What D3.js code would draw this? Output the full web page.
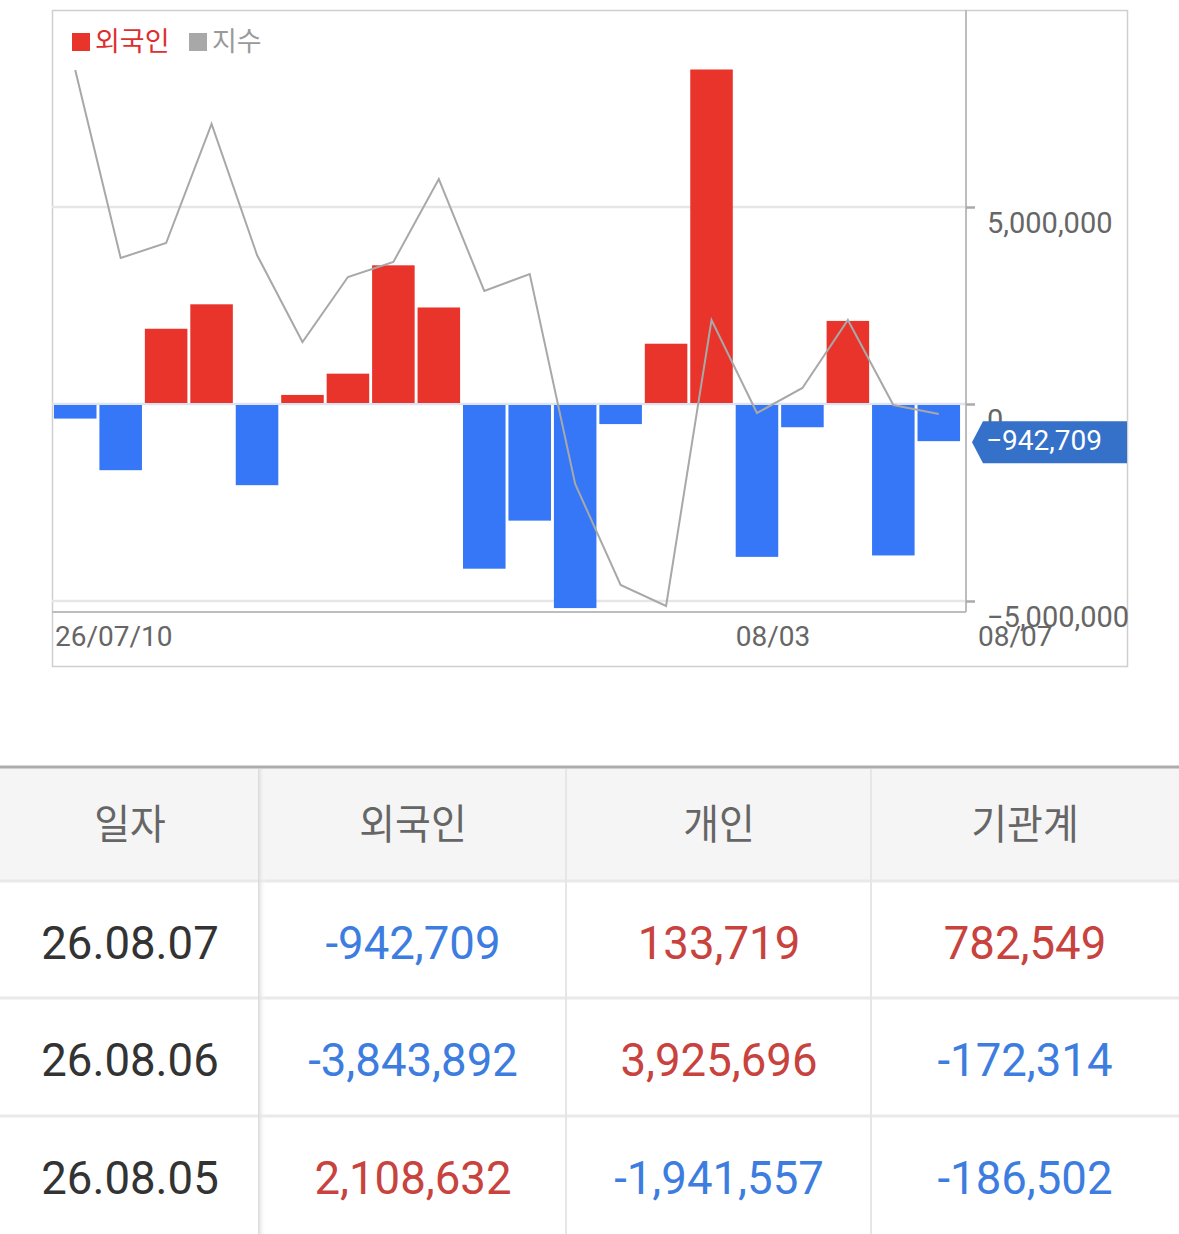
<!DOCTYPE html>
<html>
<head>
<meta charset="utf-8">
<script src="https://cdn.jsdelivr.net/npm/d3@7"></script>
<style>
    body { margin: 0; background: #fff; }
    svg { display: block; }
</style>
</head>
<body>
<svg id="chart" width="1179" height="1234"></svg>
<script>
// trading days shown in the chart
var dates = ["07/10", "07/13", "07/14", "07/15", "07/16", "07/20", "07/21", "07/22", "07/23", "07/24",
    "07/27", "07/28", "07/29", "07/30", "07/31", "08/03", "08/04", "08/05", "08/06", "08/07"];
// 외국인 net buying (shares)
var foreign = [-370000, -1680000, 1910000, 2530000, -2060000, 230000, 770000, 3520000, 2450000, -4180000,
    -2960000, -5180000, -510000, 1530000, 8490000, -3880000, -590000, 2108632, -3843892, -942709];
// 지수 (index level)
var indexValues = [3150, 3056, 3063.5, 3123, 3057.5, 3014, 3046.5, 3054, 3095.5, 3039.5,
    3048, 2943, 2892.5, 2882, 3025, 2978.5, 2991, 3025, 2982.5, 2978];
var yTicks = [-5000000, 0, 5000000];
var xLabels = ["26/07/10", "08/03", "08/07"];

// table
var tableHeader = ["일자", "외국인", "개인", "기관계"];
var tableDates = ["26.08.07", "26.08.06", "26.08.05"];
var tableForeign = [-942709, -3843892, 2108632];
var tablePersonal = [133719, 3925696, -1941557];
var tableInstitution = [782549, -172314, -186502];

var svg = d3.select("#chart");
var fmt = d3.format(",");
// chart labels use a real minus sign, the table a plain hyphen
var minus = function (v) { return fmt(v); };
var hyphen = function (v) { return fmt(v).replace("\u2212", "-"); };

var plotL = 52, plotR = 966, plotT = 10, plotB = 612;

var x = d3.scaleBand().domain(dates).range([52.5, 961.5]).paddingInner(0.064).paddingOuter(0.032);
var y = d3.scaleLinear().domain([-5000000, 5000000]).range([601, 207]);
var yIdx = d3.scaleLinear().domain([2882, 3150]).range([606, 70]);

// outer frame
svg.append("rect")
    .attr("x", 52.5).attr("y", 10.5).attr("width", 1075).attr("height", 656)
    .attr("fill", "none").attr("stroke", "#cfcfcf").attr("stroke-width", 1.5);

// gridlines
svg.append("g").selectAll("line")
    .data(yTicks)
    .enter().append("line")
    .attr("x1", plotL).attr("x2", plotR)
    .attr("y1", function (d) { return y(d); })
    .attr("y2", function (d) { return y(d); })
    .attr("stroke", function (d) { return d === 0 ? "#dde4f0" : "#e6e6e6"; })
    .attr("stroke-width", 2.5);

// bars
svg.append("g").selectAll("rect")
    .data(foreign)
    .enter().append("rect")
    .attr("x", function (d, i) { return x(dates[i]); })
    .attr("width", x.bandwidth())
    .attr("y", function (d) { return d > 0 ? y(d) : y(0) + 1; })
    .attr("height", function (d) { return Math.abs(y(d) - y(0)) - 1; })
    .attr("fill", function (d) { return d > 0 ? "#e8342b" : "#3577f6"; });

// index line
var line = d3.line()
    .x(function (d, i) { return x(dates[i]) + x.bandwidth() / 2; })
    .y(function (d) { return yIdx(d); });
svg.append("path")
    .datum(indexValues)
    .attr("d", line)
    .attr("fill", "none")
    .attr("stroke", "#a8a8a8")
    .attr("stroke-width", 2);

// plot borders
svg.append("line")
    .attr("x1", plotL).attr("x2", plotR).attr("y1", plotB).attr("y2", plotB)
    .attr("stroke", "#bdbdbd").attr("stroke-width", 2);
svg.append("line")
    .attr("x1", plotR).attr("x2", plotR).attr("y1", plotT).attr("y2", plotB)
    .attr("stroke", "#bdbdbd").attr("stroke-width", 2);

// right axis
var yAxis = d3.axisRight(y).tickValues(yTicks).tickSize(9).tickPadding(12)
    .tickFormat(function (d) { return minus(d); });
var ax = svg.append("g").attr("transform", "translate(" + plotR + ",0)").call(yAxis);
ax.select(".domain").remove();
ax.selectAll(".tick line").attr("stroke", "#aaa").attr("stroke-width", 2.5);
ax.selectAll(".tick text")
    .attr("fill", "#666")
    .attr("dy", null)
    .attr("y", 25)
    .style("font-family", "Roboto, sans-serif")
    .style("font-size", "29px");

// x labels
var xPos = [x(dates[0]) + 1, x("08/03"), plotR + 12];
svg.append("g").selectAll("text")
    .data(xLabels)
    .enter().append("text")
    .attr("x", function (d, i) { return xPos[i]; })
    .attr("y", 646)
    .attr("fill", "#666")
    .style("font-family", "Roboto, sans-serif")
    .style("font-size", "28px")
    .text(function (d) { return d; });

// last value tag
var last = foreign[foreign.length - 1];
var ty = y(last) - 20;
svg.append("path")
    .attr("d", "M972," + (ty + 21) + " L983," + ty + " L1127," + ty + " L1127," + (ty + 42) + " L983," + (ty + 42) + " Z")
    .attr("fill", "#3571c9");
svg.append("text")
    .attr("x", 986).attr("y", ty + 29)
    .attr("fill", "#fff")
    .style("font-family", "Roboto, sans-serif")
    .style("font-size", "28px")
    .text(minus(last));

// legend
var legend = [{ name: "외국인", color: "#e8342b", text: "#dd2f2f" }, { name: "지수", color: "#a8a8a8", text: "#9a9a9a" }];
var lx = [72, 189];
legend.forEach(function (d, i) {
    svg.append("rect").attr("x", lx[i]).attr("y", 33).attr("width", 18).attr("height", 18).attr("fill", d.color);
    svg.append("text")
        .attr("x", lx[i] + 23).attr("y", 51)
        .attr("fill", d.text)
        .style("font-family", "'Noto Sans CJK KR', sans-serif")
        .style("font-size", "27px")
        .text(d.name);
});

// table
var colX = [0, 260, 566, 871, 1179];
var rowY = [768, 881, 998, 1116, 1234];
var t = svg.append("g");
t.append("rect").attr("x", 0).attr("y", rowY[0]).attr("width", 1179).attr("height", rowY[1] - rowY[0]).attr("fill", "#f5f5f5");
t.append("line").attr("x1", 0).attr("x2", 1179).attr("y1", 767).attr("y2", 767).attr("stroke", "#acacac").attr("stroke-width", 3);
[1, 2, 3].forEach(function (r) {
    t.append("line").attr("x1", 0).attr("x2", 1179).attr("y1", rowY[r]).attr("y2", rowY[r])
        .attr("stroke", "#e9e9e9").attr("stroke-width", 3);
});
// shadow after first column
var grad = svg.append("defs").append("linearGradient").attr("id", "shade");
grad.append("stop").attr("offset", "0%").attr("stop-color", "#d8d8d8");
grad.append("stop").attr("offset", "100%").attr("stop-color", "#ffffff").attr("stop-opacity", 0);
t.append("rect").attr("x", 258).attr("y", 769).attr("width", 8).attr("height", 465).attr("fill", "url(#shade)");
[2, 3].forEach(function (c) {
    t.append("line").attr("x1", colX[c]).attr("x2", colX[c]).attr("y1", 769).attr("y2", 1234)
        .attr("stroke", "#e6e6e6").attr("stroke-width", 2);
});

function cellText(cx, cy, str, size, sx, color, family) {
    t.append("text")
        .attr("transform", "translate(" + cx + "," + cy + ") scale(" + sx + ",1)")
        .attr("text-anchor", "middle")
        .attr("fill", color)
        .style("font-family", family)
        .style("font-size", size + "px")
        .text(str);
}
var colC = [130, 413, 719, 1025];
tableHeader.forEach(function (h, i) {
    cellText(colC[i], 839, h, 41, 0.95, "#666", "'Noto Sans CJK KR', sans-serif");
});
var valColor = function (v) { return v < 0 ? "#3d7de0" : "#c8423e"; };
tableDates.forEach(function (d, r) {
    var cy = rowY[r + 1] + 78;
    cellText(colC[0], cy, d, 46, 0.99, "#333", "Roboto, sans-serif");
    [tableForeign, tablePersonal, tableInstitution].forEach(function (arr, c) {
        cellText(colC[c + 1], cy, hyphen(arr[r]), 46, 0.99, valColor(arr[r]), "Roboto, sans-serif");
    });
});
</script>
</body>
</html>
